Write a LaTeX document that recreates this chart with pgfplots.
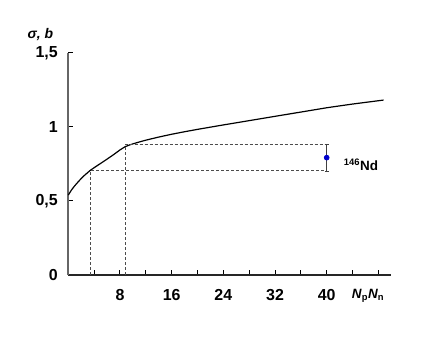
\documentclass[border=0pt]{standalone}
\usepackage{pgfplots}
\pgfplotsset{compat=1.18}
\usepackage{fontspec}
\setmainfont{Liberation Sans}
\begin{document}
\begin{tikzpicture}
\useasboundingbox (0,0) rectangle (436bp,345bp);
\begin{axis}[
  at={(68.3bp,70bp)}, anchor=south west,
  scale only axis, width=323bp, height=222bp,
  xmin=0, xmax=50, ymin=0, ymax=1.5,
  axis x line*=bottom, axis y line*=left,
  axis line style={-},
  x axis line style={draw=black!85, line width=1.1bp},
  y axis line style={draw=black!60, line width=1.6bp},
  xtick pos=bottom, ytick pos=left,
  tick align=inside,
  major tick length=5bp,
  xtick style={draw=black, line width=1bp},
  ytick style={draw=black, line width=1bp},
  xtick={4,8,...,48},
  xticklabels={,8,,16,,24,,32,,40,,},
  ytick={0,0.5,1,1.5},
  yticklabels={0,{0,5},1,{1,5}},
  ticklabel style={font=\bfseries\fontsize{16}{18}\selectfont},
  xticklabel style={yshift=-11bp},
  yticklabel style={xshift=-7bp},
  /pgf/number format/assume math mode=true,
  clip=false,
]
% curve
\addplot[black, line width=1.2bp] coordinates {
(0,0.54) (0.5,0.575) (1,0.603) (1.5,0.628) (2,0.652) (2.5,0.673) (3,0.692) (3.4,0.707)
(4,0.725) (5,0.754) (6,0.783) (7,0.813) (8,0.845) (8.8,0.867) (9.5,0.879)
(10,0.886) (11,0.899) (12,0.911) (14,0.932) (16,0.951) (18,0.968) (20,0.984) (24,1.014)
(28,1.043) (32,1.072) (36,1.101) (40,1.13) (44,1.155) (48.8,1.182)
};
% dashed guide lines
\addplot[black!70, line width=0.7bp, dash pattern=on 3bp off 2bp] coordinates {
(3.4,0) (3.4,0.704) (39.8,0.704)
};
\addplot[black!70, line width=0.7bp, dash pattern=on 3bp off 2bp] coordinates {
(8.8,0) (8.8,0.882) (39.8,0.882)
};
% data point with error bar
\addplot[draw=black!75, line width=0.8bp, mark=*, mark size=2.4bp,
  mark options={fill=blue!80!black, draw=blue!80!black},
  error bars/.cd, y dir=both, y explicit,
  error bar style={draw=black!75, line width=0.8bp},
  error mark options={rotate=90, mark size=2bp, draw=black!75}]
  coordinates {(40,0.793) +- (0,0.089)};
\node[font=\bfseries\fontsize{13.5}{15}\selectfont] at (axis cs:45.3,0.745) {\textsuperscript{146}Nd};
\node[font=\bfseries\fontsize{13.5}{15}\selectfont, anchor=center] at (axis cs:46.4,0) [yshift=-21bp] {\textit{N}\textsubscript{p}\textit{N}\textsubscript{n}};
\node[font=\bfseries\itshape\fontsize{14}{16}\selectfont] at (rel axis cs:0,1) [xshift=-28bp, yshift=18bp] {σ, b};
\end{axis}
\end{tikzpicture}
\end{document}
